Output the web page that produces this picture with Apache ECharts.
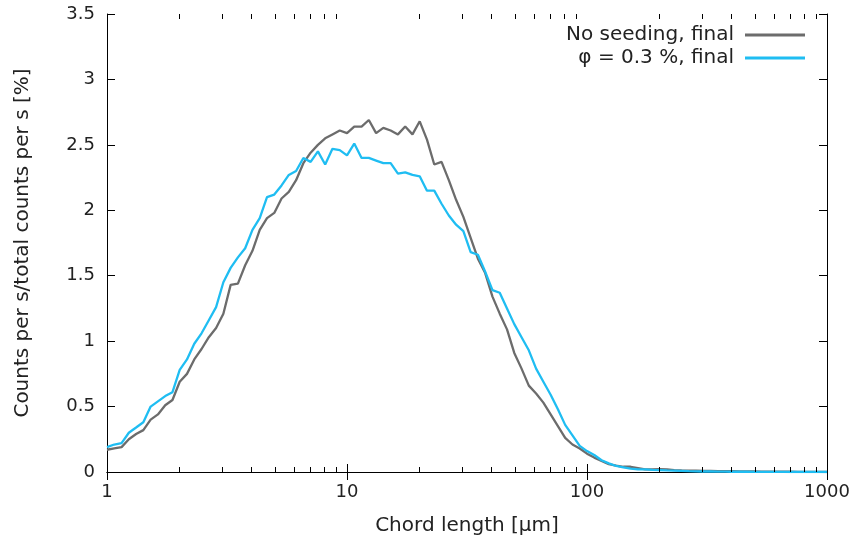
<!DOCTYPE html>
<html>
<head>
<meta charset="utf-8">
<script src="https://cdn.jsdelivr.net/npm/echarts@6/dist/echarts.min.js"></script>
<style>
  html, body { margin: 0; padding: 0; background: #fff; }
  #chart { width: 858px; height: 542px; }
</style>
</head>
<body>
<div id="chart"></div>
<script>
// chord length bins (log spaced, 33 per decade)
const chordLength = [
  1.000, 1.072, 1.150, 1.233, 1.322, 1.417, 1.520, 1.630, 1.748, 1.874,
  2.009, 2.154, 2.310, 2.477, 2.656, 2.848, 3.054, 3.275, 3.511, 3.765,
  4.037, 4.329, 4.642, 4.977, 5.337, 5.722, 6.136, 6.579, 7.055, 7.565,
  8.111, 8.697, 9.326, 10.00, 10.72, 11.50, 12.33, 13.22, 14.17, 15.20,
  16.30, 17.48, 18.74, 20.09, 21.54, 23.10, 24.77, 26.56, 28.48, 30.54,
  32.75, 35.11, 37.65, 40.37, 43.29, 46.42, 49.77, 53.37, 57.22, 61.36,
  65.79, 70.55, 75.65, 81.11, 86.97, 93.26, 100.0, 107.2, 115.0, 123.3,
  132.2, 141.7, 152.0, 163.0, 174.8, 187.4, 200.9, 215.4, 231.0, 247.7,
  265.6, 284.8, 305.4, 327.5, 351.1, 376.5, 403.7, 432.9, 464.2, 497.7,
  533.7, 572.2, 613.6, 657.9, 705.5, 756.5, 811.1, 869.7, 932.6, 1000
];

const noSeeding = [
  0.17, 0.18, 0.19, 0.25, 0.29, 0.32, 0.40, 0.44, 0.51, 0.55,
  0.69, 0.75, 0.86, 0.94, 1.03, 1.10, 1.21, 1.43, 1.44, 1.58,
  1.69, 1.85, 1.94, 1.98, 2.09, 2.14, 2.23, 2.36, 2.44, 2.50,
  2.55, 2.58, 2.61, 2.59, 2.64, 2.64, 2.69, 2.59, 2.63, 2.61,
  2.58, 2.64, 2.58, 2.68, 2.54, 2.35, 2.37, 2.23, 2.08, 1.95,
  1.79, 1.63, 1.52, 1.34, 1.21, 1.09, 0.91, 0.79, 0.66, 0.60,
  0.53, 0.44, 0.35, 0.26, 0.21, 0.18, 0.14, 0.11, 0.085, 0.06,
  0.048, 0.04, 0.04, 0.03, 0.02, 0.02, 0.022, 0.02, 0.015, 0.012,
  0.01, 0.01, 0.008, 0.008, 0.007, 0.006, 0.006, 0.005, 0.004, 0.004,
  0.003, 0.003, 0.002, 0.002, 0.002, 0.001, 0.001, 0.001, 0.001, 0.0
];

const seeded = [
  0.19, 0.21, 0.22, 0.30, 0.34, 0.38, 0.50, 0.54, 0.58, 0.61,
  0.78, 0.86, 0.98, 1.06, 1.16, 1.26, 1.45, 1.56, 1.64, 1.71,
  1.85, 1.94, 2.10, 2.12, 2.19, 2.27, 2.30, 2.40, 2.37, 2.45,
  2.35, 2.47, 2.46, 2.42, 2.51, 2.40, 2.40, 2.38, 2.36, 2.36,
  2.28, 2.29, 2.27, 2.26, 2.15, 2.15, 2.05, 1.96, 1.89, 1.84,
  1.68, 1.66, 1.53, 1.39, 1.37, 1.25, 1.13, 1.03, 0.93, 0.79,
  0.69, 0.59, 0.48, 0.36, 0.28, 0.20, 0.16, 0.13, 0.09, 0.066,
  0.046, 0.036, 0.026, 0.02, 0.02, 0.017, 0.015, 0.012, 0.01, 0.008,
  0.006, 0.005, 0.004, 0.004, 0.003, 0.003, 0.002, 0.002, 0.002, 0.001,
  0.001, 0.001, 0.001, 0.001, 0.0, 0.0, 0.0, 0.0, 0.0, 0.0
];

const xMinorTicks = [2, 3, 4, 5, 6, 7, 8, 9, 20, 30, 40, 50, 60, 70, 80, 90, 200, 300, 400, 500, 600, 700, 800, 900];

const seriesNames = ["No seeding, final", "\u03c6 = 0.3 %, final"];

const FONT = "DejaVu Sans";
const INK = "#222";
const Y_MAX = 3.5;

const chart = echarts.init(document.getElementById("chart"));

const axisLine = { show: true, lineStyle: { color: "#000", width: 1 } };
const tickIn = { show: true, inside: true, length: 8, lineStyle: { color: "#000" } };

const legendBase = {
  right: 48, align: "right", icon: "rect",
  itemWidth: 60, itemHeight: 3,
  textStyle: { fontFamily: FONT, fontSize: 20, color: INK, padding: [0, 6, 0, 0] },
};

const option = {
  animation: false,
  backgroundColor: "#fff",
  grid: { left: 107, right: 31, top: 14, bottom: 70 },
  legend: [
    { ...legendBase, data: [seriesNames[0]], top: 20 },
    { ...legendBase, data: [seriesNames[1]], top: 43 },
  ],
  xAxis: [
    {
      type: "log", logBase: 10, min: 1, max: 1000,
      name: "Chord length [\u03bcm]", nameLocation: "middle", nameGap: 44,
      nameTextStyle: { fontFamily: FONT, fontSize: 20, color: INK },
      axisLine, axisTick: tickIn, splitLine: { show: false },
      axisLabel: { fontFamily: FONT, fontSize: 18, color: INK, margin: 11, formatter: (v) => String(v) },
    },
    {
      type: "log", logBase: 10, min: 1, max: 1000, position: "top",
      axisLine, axisTick: tickIn, splitLine: { show: false },
      axisLabel: { show: false },
    },
  ],
  yAxis: [
    {
      type: "value", min: 0, max: Y_MAX, interval: 0.5,
      name: "Counts per s/total counts per s [%]", nameLocation: "middle", nameGap: 74,
      nameTextStyle: { fontFamily: FONT, fontSize: 20, color: INK },
      axisLine, axisTick: tickIn, splitLine: { show: false },
      axisLabel: { fontFamily: FONT, fontSize: 18, color: INK, margin: 12 },
    },
    {
      type: "value", min: 0, max: Y_MAX, interval: 0.5, position: "right",
      axisLine, axisTick: tickIn, splitLine: { show: false },
      axisLabel: { show: false },
    },
  ],
  series: [
    {
      name: seriesNames[0], type: "line", symbol: "none", z: 3,
      data: chordLength.map((x, i) => [x, noSeeding[i]]),
      lineStyle: { color: "#6c6c6c", width: 2.3 },
      itemStyle: { color: "#6c6c6c" },
    },
    {
      name: seriesNames[1], type: "line", symbol: "none", z: 4,
      data: chordLength.map((x, i) => [x, seeded[i]]),
      lineStyle: { color: "#1fbdf2", width: 2.3 },
      itemStyle: { color: "#1fbdf2" },
    },
    {
      // minor log ticks on bottom and top edges
      type: "custom", silent: true, z: 5,
      data: xMinorTicks.map((x) => [x, 0]),
      encode: { x: 0, y: 1 },
      renderItem: (params, api) => {
        const b = api.coord([api.value(0), 0]);
        const t = api.coord([api.value(0), Y_MAX]);
        const x = Math.round(b[0]) + 0.5;
        return {
          type: "group",
          children: [
            { type: "line", shape: { x1: x, y1: b[1], x2: x, y2: b[1] - 5 }, style: { stroke: "#000", lineWidth: 1 } },
            { type: "line", shape: { x1: x, y1: t[1], x2: x, y2: t[1] + 5 }, style: { stroke: "#000", lineWidth: 1 } },
          ],
        };
      },
    },
  ],
};

chart.setOption(option);
</script>
</body>
</html>
